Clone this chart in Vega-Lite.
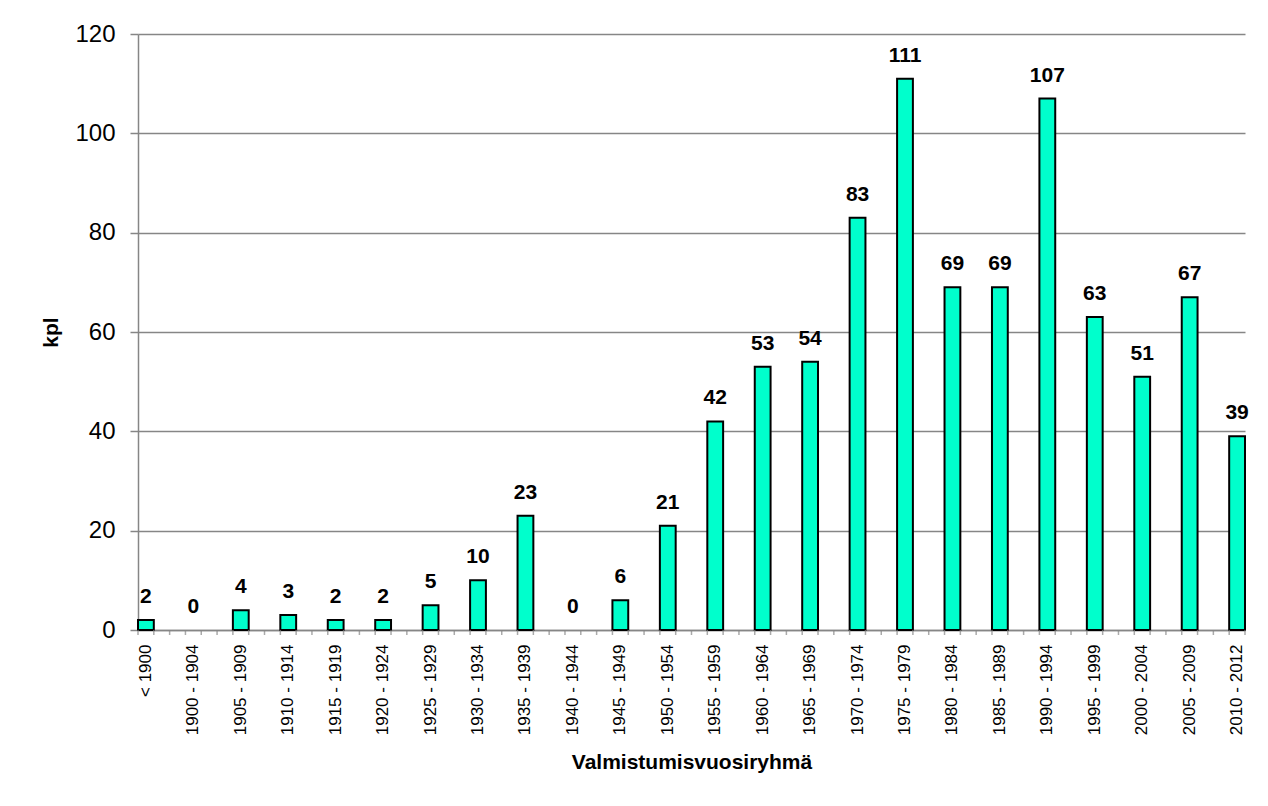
{
  "$schema": "https://vega.github.io/schema/vega-lite/v6.json",
  "autosize": {"type": "none"},
  "padding": {"left": 138, "top": 34, "right": 23, "bottom": 176},
  "width": 1107,
  "height": 596,
  "background": "white",
  "config": {
    "view": {"stroke": null},
    "font": "Liberation Sans",
    "axis": {"labelFont": "Liberation Sans", "titleFont": "Liberation Sans", "labelColor": "black", "titleColor": "black"}
  },
  "data": {
    "values": [
      {"cat": "< 1900", "n": 2},
      {"cat": "1900 - 1904", "n": 0},
      {"cat": "1905 - 1909", "n": 4},
      {"cat": "1910 - 1914", "n": 3},
      {"cat": "1915 - 1919", "n": 2},
      {"cat": "1920 - 1924", "n": 2},
      {"cat": "1925 - 1929", "n": 5},
      {"cat": "1930 - 1934", "n": 10},
      {"cat": "1935 - 1939", "n": 23},
      {"cat": "1940 - 1944", "n": 0},
      {"cat": "1945 - 1949", "n": 6},
      {"cat": "1950 - 1954", "n": 21},
      {"cat": "1955 - 1959", "n": 42},
      {"cat": "1960 - 1964", "n": 53},
      {"cat": "1965 - 1969", "n": 54},
      {"cat": "1970 - 1974", "n": 83},
      {"cat": "1975 - 1979", "n": 111},
      {"cat": "1980 - 1984", "n": 69},
      {"cat": "1985 - 1989", "n": 69},
      {"cat": "1990 - 1994", "n": 107},
      {"cat": "1995 - 1999", "n": 63},
      {"cat": "2000 - 2004", "n": 51},
      {"cat": "2005 - 2009", "n": 67},
      {"cat": "2010 - 2012", "n": 39}
    ]
  },
  "encoding": {
    "x": {
      "field": "cat",
      "type": "nominal",
      "sort": null,
      "scale": {
        "domain": ["< 1900", "1900 - 1904", "1905 - 1909", "1910 - 1914", "1915 - 1919", "1920 - 1924", "1925 - 1929", "1930 - 1934", "1935 - 1939", "1940 - 1944", "1945 - 1949", "1950 - 1954", "1955 - 1959", "1960 - 1964", "1965 - 1969", "1970 - 1974", "1975 - 1979", "1980 - 1984", "1985 - 1989", "1990 - 1994", "1995 - 1999", "2000 - 2004", "2005 - 2009", "2010 - 2012"],
        "paddingInner": 0.6667,
        "paddingOuter": 0
      },
      "axis": {
        "title": "Valmistumisvuosiryhmä",
        "titleFontSize": 21,
        "titleFontWeight": "bold",
        "titleY": 138,
        "titleBaseline": "alphabetic",
        "labelAngle": 270,
        "labelAlign": "right",
        "labelBaseline": "middle",
        "labelFontSize": 17,
        "labelPadding": 14,
        "ticks": false,
        "tickSize": 0,
        "domainColor": "#868686",
        "domainWidth": 1.5,
        "grid": false
      }
    }
  },
  "layer": [
    {
      "mark": {"type": "bar", "fill": "#00FFCC", "stroke": "black"},
      "encoding": {
        "y": {
          "field": "n",
          "type": "quantitative",
          "scale": {"domain": [0, 120], "nice": false},
          "axis": {
            "title": "kpl",
            "titleFontSize": 21,
            "titleFontWeight": "bold",
            "titleAngle": 270,
            "titleBaseline": "alphabetic",
            "titleX": -81,
            "values": [0, 20, 40, 60, 80, 100, 120],
            "labelFontSize": 24,
            "labelPadding": 15,
            "tickSize": 8,
            "tickColor": "#868686",
            "tickWidth": 1.5,
            "domainColor": "#868686",
            "domainWidth": 1.5,
            "grid": true,
            "gridColor": "#868686",
            "gridWidth": 1.3
          }
        },
        "strokeWidth": {"condition": {"test": "datum.n > 0", "value": 2}, "value": 0}
      }
    },
    {
      "mark": {"type": "text", "fontSize": 21, "fontWeight": "bold", "baseline": "alphabetic", "dy": -17, "color": "black"},
      "encoding": {
        "y": {"field": "n", "type": "quantitative"},
        "text": {"field": "n", "type": "quantitative"}
      }
    },
    {
      "mark": {"type": "tick", "orient": "vertical", "color": "#868686", "thickness": 1.5, "size": 5, "yOffset": 2.5},
      "encoding": {
        "x": {"field": "cat", "type": "nominal", "bandPosition": 0},
        "y": {"datum": 0}
      }
    },
    {
      "mark": {"type": "tick", "orient": "vertical", "color": "#868686", "thickness": 1.5, "size": 5, "yOffset": 2.5},
      "encoding": {
        "x": {"field": "cat", "type": "nominal", "bandPosition": 1},
        "y": {"datum": 0}
      }
    },
    {
      "transform": [{"filter": "datum.cat != '2010 - 2012'"}],
      "mark": {"type": "tick", "orient": "vertical", "color": "#868686", "thickness": 1.5, "size": 5, "yOffset": 2.5},
      "encoding": {
        "x": {"field": "cat", "type": "nominal", "bandPosition": 2},
        "y": {"datum": 0}
      }
    }
  ]
}
